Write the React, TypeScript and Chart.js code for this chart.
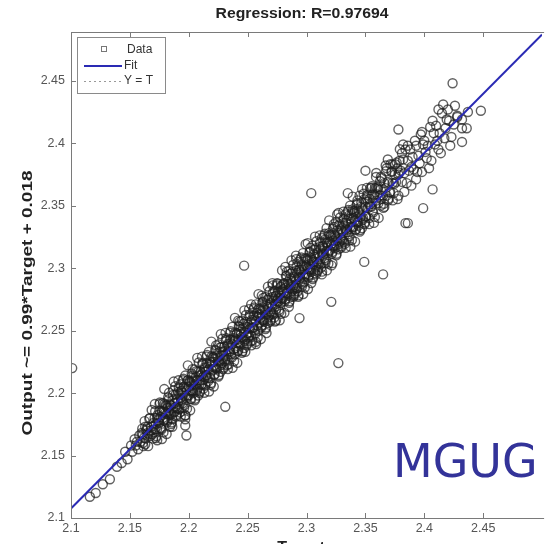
import React, { useEffect, useRef } from "react";
import { Chart, registerables } from "chart.js";

Chart.register(...registerables);

const chartTitle = "Regression: R=0.97694";
const xAxisTitle = "Target";
const yAxisTitle = "Output ~= 0.99*Target + 0.018";
const watermark = "MGUG";
const legendLabels = ["Data", "Fit", "Y = T"];

const xTickValues = [2.1, 2.15, 2.2, 2.25, 2.3, 2.35, 2.4, 2.45];
const yTickValues = [2.1, 2.15, 2.2, 2.25, 2.3, 2.35, 2.4, 2.45];
const xRange = [2.1, 2.5];
const yRange = [2.1, 2.489];

const fitTargets = [2.1, 2.5];
const fitOutputs = [2.1076, 2.487];

// [target, output] — core band and outliers
const dataPoints: [number, number][] = [
  [2.101,2.220],[2.116,2.117],[2.121,2.120],[2.127,2.127],[2.133,2.131],[2.139,2.141],[2.143,2.144],[2.146,2.153],[2.148,2.147],
  [2.151,2.158],[2.152,2.153],[2.154,2.163],[2.155,2.158],[2.156,2.161],[2.157,2.155],[2.158,2.166],[2.159,2.161],
  [2.160,2.168],[2.161,2.160],[2.161,2.167],[2.162,2.164],[2.163,2.173],[2.163,2.159],[2.164,2.170],[2.165,2.168],[2.165,2.173],[2.166,2.167],[2.167,2.180],[2.168,2.170],[2.168,2.173],[2.169,2.167],
  [2.170,2.176],[2.171,2.171],[2.171,2.180],[2.172,2.175],[2.173,2.180],[2.173,2.171],[2.174,2.178],[2.175,2.186],[2.175,2.176],[2.176,2.181],[2.176,2.172],[2.177,2.185],[2.178,2.180],[2.178,2.192],[2.179,2.178],[2.179,2.185],[2.172,2.164],[2.177,2.171],
  [2.180,2.184],[2.180,2.179],[2.181,2.190],[2.181,2.183],[2.182,2.188],[2.182,2.178],[2.183,2.186],[2.183,2.195],[2.184,2.184],[2.184,2.191],[2.185,2.183],[2.185,2.190],[2.186,2.179],[2.186,2.194],[2.187,2.188],[2.187,2.202],[2.188,2.185],[2.188,2.192],[2.189,2.189],[2.189,2.199],[2.184,2.173],[2.186,2.173],
  [2.190,2.195],[2.190,2.188],[2.191,2.201],[2.191,2.193],[2.192,2.199],[2.192,2.187],[2.193,2.196],[2.193,2.207],[2.194,2.194],[2.194,2.202],[2.195,2.192],[2.195,2.200],[2.196,2.188],[2.196,2.205],[2.197,2.198],[2.197,2.214],[2.198,2.196],[2.198,2.202],[2.199,2.198],[2.199,2.210],[2.197,2.182],
  [2.200,2.205],[2.200,2.198],[2.201,2.209],[2.201,2.202],[2.202,2.206],[2.202,2.195],[2.203,2.214],[2.203,2.202],[2.204,2.210],[2.204,2.200],[2.205,2.207],[2.205,2.219],[2.206,2.206],[2.206,2.213],[2.207,2.202],[2.207,2.210],[2.208,2.198],[2.208,2.217],[2.209,2.207],[2.209,2.214],
  [2.210,2.210],[2.210,2.217],[2.211,2.207],[2.211,2.215],[2.212,2.213],[2.212,2.224],[2.213,2.211],[2.213,2.219],[2.214,2.206],[2.214,2.217],[2.215,2.214],[2.215,2.224],[2.216,2.212],[2.216,2.221],[2.217,2.219],[2.217,2.233],[2.218,2.212],[2.218,2.225],[2.219,2.219],[2.219,2.208],
  [2.220,2.225],[2.220,2.218],[2.221,2.229],[2.221,2.221],[2.222,2.225],[2.222,2.215],[2.223,2.234],[2.223,2.220],[2.224,2.230],[2.224,2.219],[2.225,2.226],[2.225,2.239],[2.226,2.225],[2.226,2.233],[2.227,2.217],[2.227,2.230],[2.228,2.224],[2.228,2.237],[2.229,2.227],[2.229,2.233],
  [2.230,2.230],[2.230,2.237],[2.231,2.227],[2.231,2.234],[2.232,2.231],[2.232,2.244],[2.233,2.227],[2.233,2.238],[2.234,2.235],[2.234,2.223],[2.235,2.243],[2.235,2.233],[2.236,2.240],[2.236,2.231],[2.237,2.253],[2.237,2.239],[2.238,2.235],[2.238,2.244],[2.239,2.231],[2.239,2.242],
  [2.240,2.243],[2.240,2.236],[2.241,2.248],[2.241,2.240],[2.242,2.243],[2.242,2.234],[2.243,2.253],[2.243,2.240],[2.244,2.249],[2.244,2.238],[2.245,2.245],[2.245,2.258],[2.246,2.244],[2.246,2.252],[2.247,2.236],[2.247,2.249],[2.248,2.243],[2.248,2.257],[2.249,2.246],[2.249,2.253],[2.242,2.258],[2.248,2.233],
  [2.250,2.248],[2.250,2.255],[2.251,2.246],[2.251,2.253],[2.252,2.252],[2.252,2.263],[2.253,2.246],[2.253,2.257],[2.254,2.252],[2.254,2.242],[2.255,2.262],[2.255,2.252],[2.256,2.259],[2.256,2.250],[2.257,2.271],[2.257,2.258],[2.258,2.254],[2.258,2.264],[2.259,2.250],[2.259,2.261],[2.253,2.271],[2.257,2.241],
  [2.260,2.263],[2.260,2.256],[2.261,2.268],[2.261,2.260],[2.262,2.263],[2.262,2.254],[2.263,2.273],[2.263,2.258],[2.264,2.268],[2.264,2.257],[2.265,2.265],[2.265,2.277],[2.266,2.263],[2.266,2.271],[2.267,2.256],[2.267,2.269],[2.268,2.262],[2.268,2.276],[2.269,2.265],[2.269,2.272],[2.262,2.278],[2.266,2.248],
  [2.270,2.271],[2.270,2.265],[2.271,2.277],[2.271,2.269],[2.272,2.274],[2.272,2.263],[2.273,2.282],[2.273,2.269],[2.274,2.278],[2.274,2.267],[2.275,2.274],[2.275,2.288],[2.276,2.273],[2.276,2.281],[2.277,2.265],[2.277,2.278],[2.278,2.272],[2.278,2.285],[2.279,2.275],[2.279,2.282],[2.271,2.288],[2.274,2.258],[2.276,2.276],[2.278,2.276],
  [2.280,2.283],[2.280,2.276],[2.281,2.288],[2.281,2.281],[2.282,2.284],[2.282,2.275],[2.283,2.294],[2.283,2.280],[2.284,2.289],[2.284,2.278],[2.285,2.286],[2.285,2.298],[2.286,2.284],[2.286,2.292],[2.287,2.277],[2.287,2.290],[2.288,2.283],[2.288,2.297],[2.289,2.286],[2.289,2.293],[2.282,2.301],[2.285,2.269],[2.287,2.287],[2.289,2.277],
  [2.290,2.292],[2.290,2.285],[2.291,2.298],[2.291,2.290],[2.292,2.296],[2.292,2.284],[2.293,2.293],[2.293,2.305],[2.294,2.291],[2.294,2.299],[2.295,2.289],[2.295,2.297],[2.296,2.285],[2.296,2.303],[2.297,2.295],[2.297,2.312],[2.298,2.293],[2.298,2.299],[2.299,2.295],[2.299,2.308],[2.291,2.310],[2.293,2.277],[2.296,2.299],[2.298,2.289],
  [2.300,2.302],[2.300,2.295],[2.301,2.308],[2.301,2.300],[2.302,2.303],[2.302,2.294],[2.303,2.313],[2.303,2.299],[2.304,2.308],[2.304,2.297],[2.305,2.305],[2.305,2.318],[2.306,2.303],[2.306,2.311],[2.307,2.296],[2.307,2.309],[2.308,2.302],[2.308,2.316],[2.309,2.305],[2.309,2.312],[2.301,2.320],[2.304,2.288],[2.306,2.305],[2.308,2.295],
  [2.310,2.311],[2.310,2.304],[2.311,2.317],[2.311,2.309],[2.312,2.315],[2.312,2.303],[2.313,2.312],[2.313,2.324],[2.314,2.310],[2.314,2.318],[2.315,2.308],[2.315,2.316],[2.316,2.304],[2.316,2.323],[2.317,2.314],[2.317,2.332],[2.318,2.312],[2.318,2.318],[2.319,2.314],[2.319,2.328],[2.313,2.295],[2.317,2.320],
  [2.320,2.321],[2.320,2.314],[2.321,2.327],[2.321,2.319],[2.322,2.322],[2.322,2.313],[2.323,2.333],[2.323,2.318],[2.324,2.327],[2.324,2.316],[2.325,2.324],[2.325,2.337],[2.326,2.322],[2.326,2.330],[2.327,2.315],[2.327,2.328],[2.328,2.321],[2.328,2.335],[2.329,2.324],[2.329,2.331],[2.322,2.304],[2.326,2.343],
  [2.330,2.330],[2.330,2.323],[2.331,2.336],[2.331,2.328],[2.332,2.334],[2.332,2.321],[2.333,2.331],[2.333,2.343],[2.334,2.329],[2.334,2.338],[2.335,2.327],[2.335,2.335],[2.336,2.322],[2.336,2.342],[2.337,2.333],[2.337,2.350],[2.338,2.331],[2.338,2.337],[2.339,2.333],[2.339,2.347],
  [2.340,2.340],[2.340,2.333],[2.341,2.346],[2.341,2.338],[2.342,2.341],[2.342,2.331],[2.343,2.352],[2.343,2.337],[2.344,2.346],[2.344,2.334],[2.345,2.343],[2.345,2.358],[2.346,2.341],[2.346,2.349],[2.347,2.332],[2.347,2.347],[2.348,2.340],[2.349,2.355],
  [2.350,2.349],[2.350,2.341],[2.351,2.356],[2.352,2.348],[2.352,2.353],[2.353,2.340],[2.354,2.351],[2.354,2.364],[2.355,2.349],[2.356,2.359],[2.356,2.346],[2.357,2.356],[2.358,2.341],[2.358,2.364],[2.359,2.354],[2.359,2.373],
  [2.360,2.359],[2.361,2.352],[2.361,2.365],[2.362,2.358],[2.363,2.363],[2.363,2.350],[2.364,2.372],[2.365,2.358],[2.366,2.368],[2.366,2.349],[2.367,2.364],[2.368,2.380],[2.368,2.358],[2.369,2.369],
  [2.370,2.368],[2.371,2.361],[2.372,2.377],[2.373,2.368],[2.373,2.383],[2.374,2.360],[2.375,2.375],[2.376,2.369],[2.377,2.380],[2.378,2.358],[2.378,2.375],[2.379,2.386],
  [2.380,2.378],[2.381,2.369],[2.382,2.387],[2.383,2.376],[2.384,2.395],[2.385,2.368],[2.386,2.386],[2.387,2.378],[2.388,2.395],[2.389,2.366],
  [2.390,2.389],[2.391,2.379],[2.393,2.398],[2.394,2.377],[2.395,2.390],[2.397,2.407],[2.398,2.377],[2.399,2.399],
  [2.400,2.402],[2.402,2.388],[2.403,2.398],[2.405,2.413],[2.406,2.386],[2.408,2.408],[2.409,2.399],
  [2.410,2.414],[2.412,2.395],[2.413,2.408],[2.415,2.424],[2.417,2.404],[2.419,2.419],
  [2.421,2.418],[2.423,2.405],[2.426,2.430],[2.428,2.421],
  [2.381,2.392],[2.383,2.361],[2.386,2.398],[2.389,2.381],[2.392,2.402],[2.393,2.371],[2.396,2.384],[2.398,2.409],[2.401,2.393],[2.404,2.380],[2.407,2.418],[2.411,2.402],[2.414,2.392],[2.418,2.412],[2.422,2.398],
  [2.231,2.189],[2.198,2.166],[2.197,2.174],[2.197,2.179],[2.304,2.360],[2.247,2.302],[2.327,2.224],[2.365,2.295],[2.349,2.305],[2.321,2.273],[2.294,2.260],[2.399,2.348],[2.386,2.336],[2.407,2.363],[2.424,2.448],[2.448,2.426],[2.378,2.411],[2.416,2.431],[2.412,2.427],[2.432,2.401],[2.432,2.412],[2.384,2.336],[2.369,2.387],[2.382,2.399],[2.350,2.378],[2.335,2.360],[2.436,2.412],[2.432,2.419],[2.428,2.422],[2.420,2.427],[2.425,2.415],[2.437,2.425],
];

// [target, output] — wider spread of the band
const dataPointsWide: [number, number][] = [
  [2.1605,2.1715],[2.1615,2.1575],[2.1625,2.1775],[2.1635,2.1635],[2.1645,2.1715],[2.1655,2.1575],[2.1665,2.1795],[2.1675,2.1655],[2.1685,2.1865],[2.1695,2.1635],
  [2.1705,2.1685],[2.1715,2.1855],[2.1725,2.1655],[2.1735,2.1825],[2.1745,2.1765],[2.1755,2.1925],[2.1765,2.1715],[2.1775,2.1855],[2.1785,2.1685],[2.1795,2.1915],
  [2.1805,2.1905],[2.1815,2.1765],[2.1825,2.1965],[2.1835,2.1825],[2.1845,2.1905],[2.1855,2.1765],[2.1865,2.1985],[2.1875,2.1845],[2.1885,2.2055],[2.1895,2.1825],
  [2.1905,2.1875],[2.1915,2.2045],[2.1925,2.1845],[2.1935,2.2015],[2.1945,2.1955],[2.1955,2.2115],[2.1965,2.1905],[2.1975,2.2045],[2.1985,2.1875],[2.1995,2.2105],
  [2.2005,2.2095],[2.2015,2.1955],[2.2025,2.2155],[2.2035,2.2015],[2.2045,2.2095],[2.2055,2.1955],[2.2065,2.2175],[2.2075,2.2035],[2.2085,2.2245],[2.2095,2.2015],
  [2.2105,2.2065],[2.2115,2.2235],[2.2125,2.2035],[2.2135,2.2205],[2.2145,2.2145],[2.2155,2.2305],[2.2165,2.2095],[2.2175,2.2235],[2.2185,2.2065],[2.2195,2.2295],
  [2.2205,2.2285],[2.2215,2.2145],[2.2225,2.2345],[2.2235,2.2205],[2.2245,2.2285],[2.2255,2.2145],[2.2265,2.2365],[2.2275,2.2225],[2.2285,2.2435],[2.2295,2.2205],
  [2.2305,2.2255],[2.2315,2.2425],[2.2325,2.2225],[2.2335,2.2395],[2.2345,2.2335],[2.2355,2.2495],[2.2365,2.2285],[2.2375,2.2425],[2.2385,2.2255],[2.2395,2.2485],
  [2.2405,2.2475],[2.2415,2.2335],[2.2425,2.2535],[2.2435,2.2395],[2.2445,2.2475],[2.2455,2.2335],[2.2465,2.2555],[2.2475,2.2415],[2.2485,2.2625],[2.2495,2.2395],
  [2.2505,2.2445],[2.2515,2.2615],[2.2525,2.2415],[2.2535,2.2585],[2.2545,2.2525],[2.2555,2.2685],[2.2565,2.2475],[2.2575,2.2615],[2.2585,2.2445],[2.2595,2.2675],
  [2.2605,2.2665],[2.2615,2.2525],[2.2625,2.2725],[2.2635,2.2585],[2.2645,2.2665],[2.2655,2.2525],[2.2665,2.2745],[2.2675,2.2605],[2.2685,2.2815],[2.2695,2.2585],
  [2.2705,2.2635],[2.2715,2.2805],[2.2725,2.2605],[2.2735,2.2775],[2.2745,2.2715],[2.2755,2.2875],[2.2765,2.2665],[2.2775,2.2805],[2.2785,2.2635],[2.2795,2.2865],
  [2.2805,2.2875],[2.2815,2.2735],[2.2825,2.2935],[2.2835,2.2795],[2.2845,2.2875],[2.2855,2.2735],[2.2865,2.2955],[2.2875,2.2815],[2.2885,2.3025],[2.2895,2.2795],
  [2.2905,2.2845],[2.2915,2.3015],[2.2925,2.2815],[2.2935,2.2985],[2.2945,2.2925],[2.2955,2.3085],[2.2965,2.2875],[2.2975,2.3015],[2.2985,2.2845],[2.2995,2.3075],
  [2.3005,2.3065],[2.3015,2.2925],[2.3025,2.3125],[2.3035,2.2985],[2.3045,2.3065],[2.3055,2.2925],[2.3065,2.3145],[2.3075,2.3005],[2.3085,2.3215],[2.3095,2.2985],
  [2.3105,2.3035],[2.3115,2.3205],[2.3125,2.3005],[2.3135,2.3175],[2.3145,2.3115],[2.3155,2.3275],[2.3165,2.3065],[2.3175,2.3205],[2.3185,2.3035],[2.3195,2.3265],
  [2.3205,2.3255],[2.3215,2.3115],[2.3225,2.3315],[2.3235,2.3175],[2.3245,2.3255],[2.3255,2.3115],[2.3265,2.3335],[2.3275,2.3195],[2.3285,2.3405],[2.3295,2.3175],
  [2.3305,2.3225],[2.3315,2.3395],[2.3325,2.3195],[2.3335,2.3365],[2.3345,2.3305],[2.3355,2.3465],[2.3365,2.3255],[2.3375,2.3395],[2.3385,2.3225],[2.3395,2.3455],
  [2.3405,2.3445],[2.3415,2.3305],[2.3425,2.3505],[2.3435,2.3365],[2.3445,2.3445],[2.3455,2.3305],[2.3465,2.3525],[2.3475,2.3385],[2.3485,2.3595],[2.3495,2.3365],
  [2.3505,2.3415],[2.3515,2.3585],[2.3535,2.3555],[2.3545,2.3495],[2.3555,2.3655],[2.3565,2.3445],[2.3575,2.3585],[2.3595,2.3645],
  [2.3605,2.3635],[2.3625,2.3695],[2.3635,2.3555],[2.3655,2.3515],[2.3675,2.3775],[2.3695,2.3555],
  [2.3705,2.3605],[2.3725,2.3775],[2.3745,2.3675],[2.3765,2.3845],[2.3785,2.3765],
];

// [target, output] — fringe of the band
const dataPointsFringe: [number, number][] = [
  [2.1712,2.1912],[2.1732,2.1622],[2.1752,2.1912],[2.1772,2.1632],[2.1792,2.2032],
  [2.1812,2.1672],[2.1832,2.2002],[2.1852,2.1752],[2.1872,2.2092],[2.1892,2.1812],
  [2.1912,2.2102],[2.1932,2.1812],[2.1952,2.2102],[2.1972,2.1822],[2.1992,2.2222],
  [2.2012,2.1862],[2.2032,2.2192],[2.2052,2.1942],[2.2072,2.2282],[2.2092,2.2002],
  [2.2112,2.2292],[2.2132,2.2002],[2.2152,2.2292],[2.2172,2.2012],[2.2192,2.2412],
  [2.2212,2.2052],[2.2232,2.2382],[2.2252,2.2132],[2.2272,2.2472],[2.2292,2.2192],
  [2.2312,2.2482],[2.2332,2.2192],[2.2352,2.2482],[2.2372,2.2202],[2.2392,2.2602],
  [2.2412,2.2242],[2.2432,2.2572],[2.2452,2.2322],[2.2472,2.2662],[2.2492,2.2382],
  [2.2512,2.2672],[2.2532,2.2382],[2.2552,2.2672],[2.2572,2.2392],[2.2592,2.2792],
  [2.2612,2.2432],[2.2632,2.2762],[2.2652,2.2512],[2.2672,2.2852],[2.2692,2.2572],
  [2.2712,2.2862],[2.2732,2.2572],[2.2752,2.2862],[2.2772,2.2582],[2.2792,2.2982],
  [2.2812,2.2642],[2.2832,2.2972],[2.2852,2.2722],[2.2872,2.3062],[2.2892,2.2782],
  [2.2912,2.3072],[2.2932,2.2782],[2.2952,2.3072],[2.2972,2.2792],[2.2992,2.3192],
  [2.3012,2.2832],[2.3032,2.3162],[2.3052,2.2912],[2.3072,2.3252],[2.3092,2.2972],
  [2.3112,2.3262],[2.3132,2.2972],[2.3152,2.3262],[2.3172,2.2982],[2.3192,2.3382],
  [2.3212,2.3022],[2.3232,2.3352],[2.3252,2.3102],[2.3272,2.3442],[2.3292,2.3162],
  [2.3312,2.3452],[2.3332,2.3162],[2.3352,2.3452],[2.3372,2.3172],[2.3392,2.3572],
  [2.3412,2.3212],[2.3432,2.3542],[2.3452,2.3292],[2.3472,2.3632],[2.3492,2.3352],
  [2.3512,2.3642],[2.3532,2.3352],[2.3552,2.3642],[2.3572,2.3362],[2.3592,2.3762],
  [2.3612,2.3402],[2.3632,2.3732],[2.3652,2.3482],[2.3672,2.3822],[2.3692,2.3542],
  [2.3712,2.3832],[2.3732,2.3542],[2.3752,2.3832],[2.3772,2.3552],[2.3792,2.3952],
];

const FONT = '"Liberation Sans", Arial, sans-serif';
const FIT_COLOR = "#2a2ab4";

function fmt(v: number) {
  return String(parseFloat(Number(v).toFixed(2)));
}

function fitText(ctx: CanvasRenderingContext2D, text: string, cx: number, cy: number, width: number, rotate: boolean) {
  ctx.save();
  ctx.translate(cx, cy);
  if (rotate) ctx.rotate(-Math.PI / 2);
  const w = ctx.measureText(text).width;
  ctx.scale(width / w, 1);
  ctx.textAlign = "center";
  ctx.textBaseline = "middle";
  ctx.fillText(text, 0, 0);
  ctx.restore();
}

const decorPlugin = {
  id: "decor",
  afterDatasetsDraw(chart: any) {
    const { ctx, chartArea: a, scales } = chart;
    const xs = scales.x;
    const ys = scales.y;
    ctx.save();
    ctx.strokeStyle = "#7a7a7a";
    ctx.lineWidth = 1;
    ctx.beginPath();
    ctx.moveTo(a.right + 2, a.top + 0.5);
    ctx.lineTo(a.left + 0.5, a.top + 0.5);
    ctx.lineTo(a.left + 0.5, a.bottom + 0.5);
    ctx.lineTo(a.right + 2, a.bottom + 0.5);
    ctx.stroke();
    ctx.beginPath();
    for (const v of xTickValues) {
      const px = Math.round(xs.getPixelForValue(v)) + 0.5;
      ctx.moveTo(px, a.bottom);
      ctx.lineTo(px, a.bottom - 5);
      ctx.moveTo(px, a.top);
      ctx.lineTo(px, a.top + 5);
    }
    for (const v of yTickValues) {
      const py = Math.round(ys.getPixelForValue(v)) + 0.5;
      ctx.moveTo(a.left, py);
      ctx.lineTo(a.left + 5, py);
    }
    ctx.stroke();

    const lx = 77.5, ly = 37.5, lw = 88, lh = 56;
    ctx.fillStyle = "#ffffff";
    ctx.fillRect(lx, ly, lw, lh);
    ctx.strokeStyle = "#8a8a8a";
    ctx.strokeRect(lx, ly, lw, lh);
    ctx.strokeStyle = "#777";
    ctx.strokeRect(101.5, 46.5, 5, 5);
    ctx.strokeStyle = FIT_COLOR;
    ctx.lineWidth = 2;
    ctx.beginPath();
    ctx.moveTo(84, 66);
    ctx.lineTo(122, 66);
    ctx.stroke();
    ctx.strokeStyle = "#999";
    ctx.lineWidth = 1;
    ctx.setLineDash([2, 3]);
    ctx.beginPath();
    ctx.moveTo(84, 81.5);
    ctx.lineTo(122, 81.5);
    ctx.stroke();
    ctx.setLineDash([]);
    ctx.fillStyle = "#333";
    ctx.font = `12px ${FONT}`;
    ctx.textAlign = "left";
    ctx.textBaseline = "middle";
    ctx.fillText(legendLabels[0], 127, 50);
    ctx.fillText(legendLabels[1], 124, 66);
    ctx.fillText(legendLabels[2], 124, 81);
    ctx.restore();
  },
  afterDraw(chart: any) {
    const { ctx } = chart;
    ctx.save();
    ctx.fillStyle = "#222";
    ctx.font = `bold 15px ${FONT}`;
    fitText(ctx, chartTitle, 302, 14, 173, false);
    ctx.font = `bold 15px ${FONT}`;
    fitText(ctx, yAxisTitle, 28, 303, 265, true);
    ctx.font = `bold 16px ${FONT}`;
    ctx.textAlign = "center";
    ctx.textBaseline = "alphabetic";
    ctx.fillText(xAxisTitle, 301, 553);
    ctx.fillStyle = "#333399";
    ctx.font = '46px "DejaVu Sans"';
    ctx.textAlign = "left";
    ctx.fillText(watermark, 393, 477);
    ctx.restore();
  },
};

export default function App() {
  const ref = useRef<HTMLCanvasElement | null>(null);
  useEffect(() => {
    if (!ref.current) return;
    const allPoints = dataPoints.concat(dataPointsWide, dataPointsFringe);
    const chart = new Chart(ref.current, {
      type: "scatter",
      data: {
        datasets: [
          {
            label: legendLabels[1],
            data: fitTargets.map((t, i) => ({ x: t, y: fitOutputs[i] })),
            showLine: true,
            borderColor: FIT_COLOR,
            borderWidth: 2,
            pointRadius: 0,
            order: 0,
          },
          {
            label: legendLabels[0],
            data: allPoints.map(([t, o]) => ({ x: t, y: o })),
            pointStyle: "circle",
            pointRadius: 4.5,
            borderColor: "rgba(30,30,30,0.7)",
            backgroundColor: "rgba(0,0,0,0)",
            borderWidth: 1.4,
            order: 1,
          },
        ],
      },
      options: {
        animation: false,
        responsive: false,
        devicePixelRatio: 1,
        layout: { padding: { top: 32, left: 0, right: 0, bottom: 0 } },
        plugins: { legend: { display: false }, title: { display: false }, tooltip: { enabled: false } },
        scales: {
          x: {
            type: "linear",
            min: xRange[0],
            max: xRange[1],
            afterBuildTicks: (s: any) => { s.ticks = xTickValues.map((v) => ({ value: v })); },
            afterFit: (s: any) => { s.height = 26; },
            ticks: { callback: (v: any) => fmt(v), color: "#555", font: { family: FONT, size: 12.5 }, padding: 3, autoSkip: false, maxRotation: 0 },
            grid: { display: true, drawOnChartArea: false, drawTicks: false },
            border: { display: false },
          },
          y: {
            type: "linear",
            min: yRange[0],
            max: yRange[1],
            afterBuildTicks: (s: any) => { s.ticks = yTickValues.map((v) => ({ value: v })); },
            afterFit: (s: any) => { s.width = 71; },
            ticks: { callback: (v: any) => fmt(v), color: "#555", font: { family: FONT, size: 12.5 }, padding: 6, autoSkip: false },
            grid: { display: true, drawOnChartArea: false, drawTicks: false },
            border: { display: false },
          },
        },
      },
      plugins: [decorPlugin],
    } as any);
    return () => chart.destroy();
  }, []);
  return (
    <div style={{ position: "fixed", left: 0, top: 0, width: 548, height: 544, background: "#fff" }}>
      <canvas ref={ref} width={548} height={544} style={{ display: "block", width: 548, height: 544 }} />
    </div>
  );
}
